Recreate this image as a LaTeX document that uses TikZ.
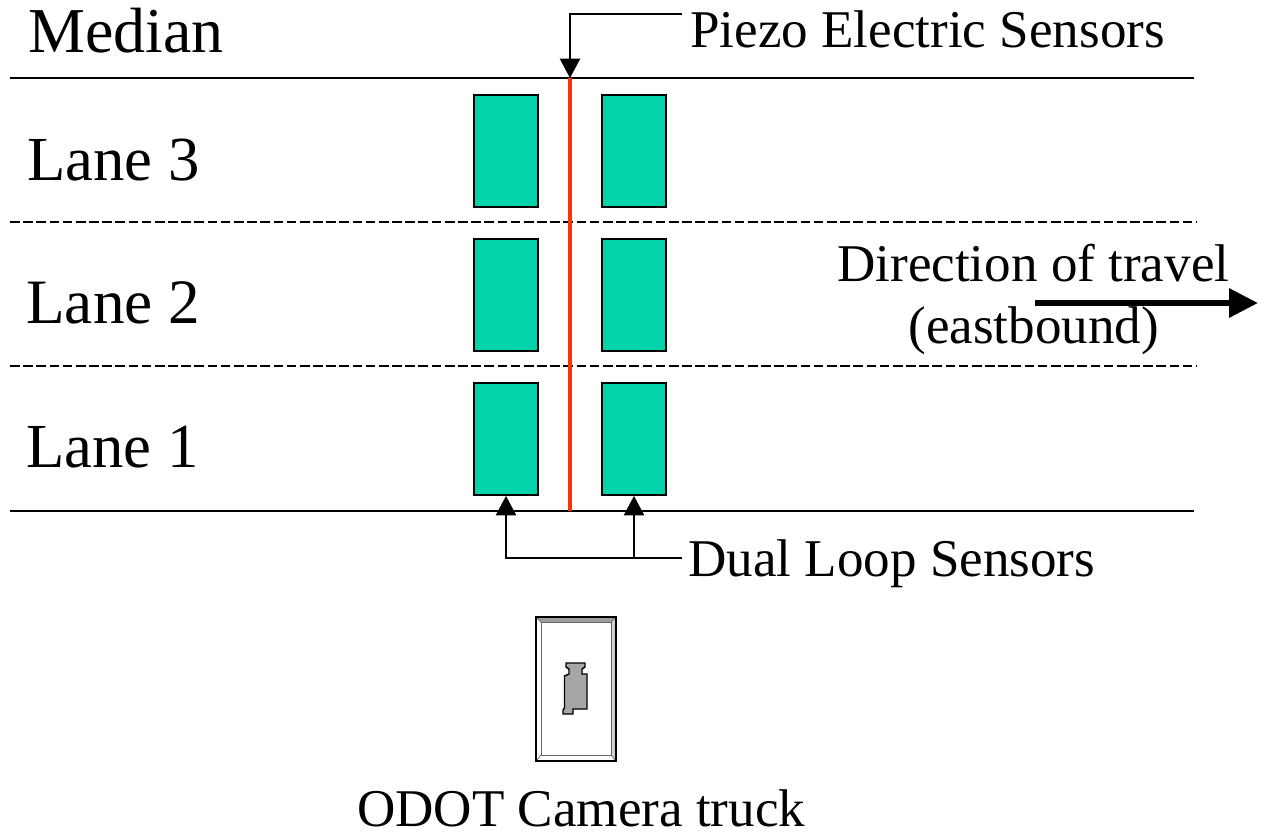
\documentclass[tikz,border=0pt]{standalone}
\usepackage{fontspec}
\setmainfont{Liberation Serif}
\usetikzlibrary{arrows.meta}

\definecolor{loopgreen}{HTML}{00D4A8}
\definecolor{piezored}{HTML}{FF3300}

\begin{document}
\begin{tikzpicture}[x=0.02cm,y=-0.02cm]
\tikzset{road/.style = {draw=black,line width=0.95pt}}
\tikzset{lanesep/.style = {draw=black,line width=0.6pt,dash pattern=on 5.5pt off 2pt}}
\tikzset{sensor/.style = {draw=black,fill=loopgreen,line width=1.1pt,minimum width=1.28cm,minimum height=2.24cm,inner sep=0pt}}
\tikzset{edge/.style = {draw=black,line width=0.95pt,->,> = {Triangle[length=11pt,width=11.5pt]}}}
\tikzset{leader/.style = {draw=black,line width=0.95pt}}
\tikzset{lanetext/.style = {anchor=base west,inner sep=0pt,font=\fontsize{35.7}{40}\selectfont}}
\tikzset{labeltext/.style = {anchor=base west,inner sep=0pt,font=\fontsize{30.2}{36}\selectfont}}
\useasboundingbox (0,0) rectangle (1265,833);
% road
\coordinate (topw) at (10,78);
\coordinate (tope) at (1194,78);
\coordinate (botw) at (10,511);
\coordinate (bote) at (1194,511);
\coordinate (sepaw) at (10,222);
\coordinate (sepae) at (1196,222);
\coordinate (sepbw) at (10,366);
\coordinate (sepbe) at (1196,366);
\coordinate (piezotop) at (570,78);
\coordinate (piezobot) at (570,511);
\draw[road] (topw) -- (tope);
\draw[road] (botw) -- (bote);
\draw[lanesep] (sepaw) -- (sepae);
\draw[lanesep] (sepbw) -- (sepbe);
% sensors
\node[sensor] (l3a) at (506,151) {};
\node[sensor] (l3b) at (634,151) {};
\node[sensor] (l2a) at (506,295) {};
\node[sensor] (l2b) at (634,295) {};
\node[sensor] (l1a) at (506,439) {};
\node[sensor] (l1b) at (634,439) {};
\draw[piezored,line width=2.1pt] (piezotop) -- (piezobot);
% labels
\node[lanetext,font=\fontsize{36.4}{40}\selectfont] (median) at (28,52) {Median};
\node[lanetext] (lane3) at (27,180) {Lane 3};
\node[lanetext,font=\fontsize{36}{40}\selectfont] (lane2) at (26,323) {Lane 2};
\node[lanetext] (lane1) at (26,467) {Lane 1};
\node[labeltext] (piezo) at (690,47) {Piezo Electric Sensors};
\node[labeltext] (dual) at (688,576) {Dual Loop Sensors};
\node[labeltext] (dir) at (837,281) {Direction of travel};
\node[labeltext] (east) at (908,343) {(eastbound)};
\node[labeltext] (truck) at (357,826) {ODOT Camera truck};
% leaders
\coordinate (piezoend) at (682,14);
\coordinate (piezoturn) at (570,14);
\coordinate (dualend) at (682,558);
\coordinate (dualmid) at (634,558);
\coordinate (dualturn) at (506,558);
\draw[edge] (piezoend) -- (piezoturn) -- (piezotop);
\draw[leader] (dualend) -- (dualmid);
\draw[edge] (dualmid) -- (l1b.south);
\draw[edge] (dualmid) -- (dualturn) -- (l1a.south);
% travel arrow
\coordinate (travelw) at (1035,303);
\coordinate (travele) at (1258,303);
\draw[line width=3.4pt,-{Triangle[length=16.5pt,width=16pt]}] (travelw) -- (travele);
% camera truck
\draw[fill=white,line width=1.1pt] (536,617) rectangle (616,761);
\fill[black!38] (536,617) -- (616,617) -- (611,622) -- (541,622) -- cycle;
\fill[black!18] (616,617) -- (616,761) -- (611,755) -- (611,622) -- cycle;
\draw[line width=0.4pt,black!60] (541,622) rectangle (611,755);
\draw[line width=0.4pt,black!60] (536,617) -- (541,622) (616,617) -- (611,622) (536,761) -- (541,755) (616,761) -- (611,755);
\draw[line width=1.5pt] (536,617) rectangle (616,761);
\draw[fill=black!35,line width=0.8pt] (566,663) -- (585,663) -- (585,667) -- (582,669) -- (582,674) -- (587,674)
  -- (587,709) -- (573,709) -- (573,714) -- (563,714) -- (563,710) -- (564.5,708) -- (564.5,676)
  -- (569,674) -- (569,669) -- (566,667) -- cycle;
\end{tikzpicture}
\end{document}
